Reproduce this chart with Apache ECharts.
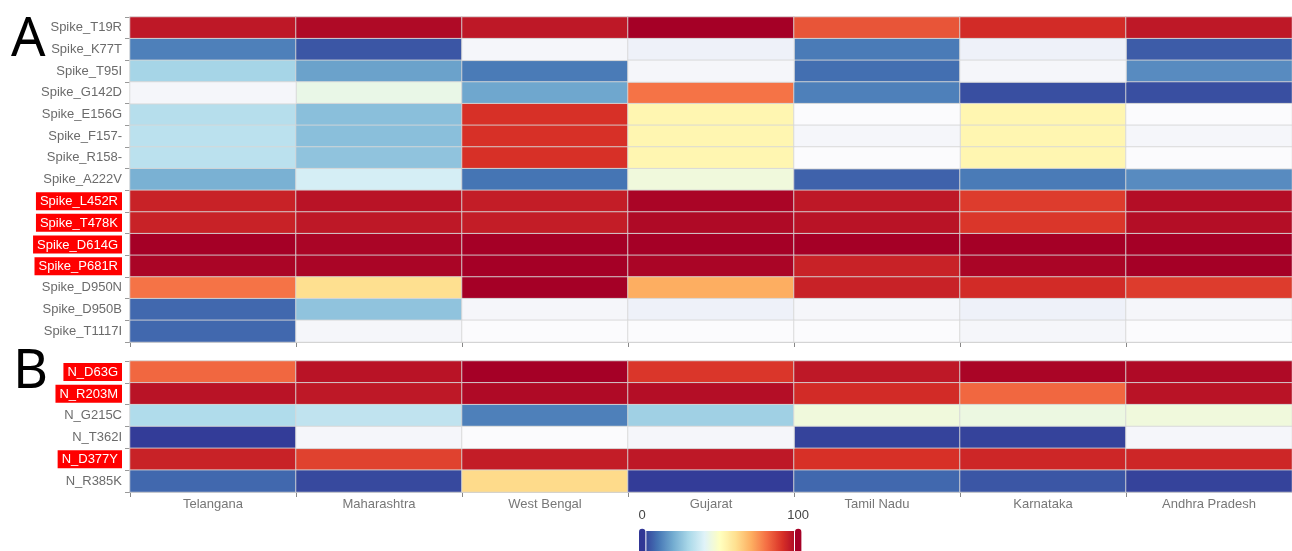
<!DOCTYPE html>
<html>
<head>
<meta charset="utf-8">
<script src="https://cdn.jsdelivr.net/npm/echarts@6/dist/echarts.min.js"></script>
<style>
  html, body { margin: 0; padding: 0; background: #fff; }
  #chart { width: 1292px; height: 551px; }
</style>
</head>
<body>
<div id="chart"></div>
<script>
const states = ['Telangana', 'Maharashtra', 'West Bengal', 'Gujarat', 'Tamil Nadu', 'Karnataka', 'Andhra Pradesh'];

const spikeMutations = [
  'Spike_T19R', 'Spike_K77T', 'Spike_T95I', 'Spike_G142D', 'Spike_E156G', 'Spike_F157-',
  'Spike_R158-', 'Spike_A222V', 'Spike_L452R', 'Spike_T478K', 'Spike_D614G', 'Spike_P681R',
  'Spike_D950N', 'Spike_D950B', 'Spike_T1117I'
];
const nMutations = ['N_D63G', 'N_R203M', 'N_G215C', 'N_T362I', 'N_D377Y', 'N_R385K'];

// labels drawn on a red box
const highlighted = ['Spike_L452R', 'Spike_T478K', 'Spike_D614G', 'Spike_P681R', 'N_D63G', 'N_R203M', 'N_D377Y'];

// frequency (%) per state, same order as states
// -1 / -2 / -3 = no data (drawn in very light greys)
const spikeValues = [
  [95, 98, 95, 100, 84, 91, 95],
  [12, 5, -2, -3, 11, -3, 6],
  [29, 18, 11, -2, 9, -2, 14],
  [-2, 43, 19, 79, 12, 4, 4],
  [32, 24, 90, 53, -1, 53, -1],
  [33, 24, 90, 53, -2, 53, -2],
  [33, 25, 90, 53, -1, 53, -1],
  [21, 38, 10, 45, 7, 11, 14],
  [93, 96, 94, 99, 95, 88, 97],
  [93, 95, 94, 98, 96, 89, 97],
  [100, 99, 100, 100, 100, 100, 100],
  [99, 99, 100, 99, 93, 99, 100],
  [79, 60, 100, 70, 93, 91, 88],
  [8, 25, -2, -3, -2, -3, -2],
  [8, -2, -1, -1, -1, -2, -1]
];
const nValues = [
  [81, 96, 100, 89, 95, 99, 98],
  [96, 95, 98, 97, 91, 81, 96],
  [31, 34, 12, 28, 45, 44, 45],
  [1, -2, -1, -2, 2, 2, -2],
  [93, 87, 94, 95, 90, 92, 92],
  [8, 3, 61, 1, 8, 5, 2]
];

const rdylbu = ['#313695', '#4575b4', '#74add1', '#abd9e9', '#e0f3f8', '#ffffbf',
  '#fee090', '#fdae61', '#f46d43', '#d73027', '#a50026'];

function split(values) {
  const cells = [], empty = [];
  values.forEach((row, r) => row.forEach((v, c) => {
    if (v >= 0) cells.push([c, r, v]);
    else empty.push([c, r, -v]);
  }));
  return {cells, empty};
}
const spike = split(spikeValues);
const nprot = split(nValues);

const labelColor = '#6b6b6b';

function yAxis(names, gridIndex) {
  return {
    type: 'category',
    gridIndex,
    data: names,
    inverse: true,
    axisLine: {show: false},
    axisTick: {show: true, length: 5, lineStyle: {color: '#999'}},
    axisLabel: {
      color: labelColor,
      fontSize: 13,
      fontFamily: 'Liberation Sans, Arial, sans-serif',
      margin: 8,
      formatter: v => highlighted.includes(v) ? '{hl|' + v + '}' : v,
      rich: {
        hl: {
          backgroundColor: '#ff0000',
          color: '#fff',
          fontSize: 13,
          fontFamily: 'Liberation Sans, Arial, sans-serif',
          padding: [3, 4, 2, 4]
        }
      }
    },
    splitLine: {show: false}
  };
}

function xAxis(gridIndex, showLabel) {
  return {
    type: 'category',
    gridIndex,
    data: states,
    axisLine: {show: true, lineStyle: {color: '#aaa', width: 1.5}},
    axisTick: {show: true, length: 5, lineStyle: {color: '#888'}},
    axisLabel: {
      show: showLabel,
      color: '#777',
      fontSize: 13,
      fontFamily: 'Liberation Sans, Arial, sans-serif',
      margin: 6
    },
    splitLine: {show: false}
  };
}

const cellStyle = {borderColor: 'rgba(215,215,215,0.9)', borderWidth: 1};

const chart = echarts.init(document.getElementById('chart'));
chart.setOption({
  animation: false,
  backgroundColor: '#fff',
  grid: [
    {left: 130, top: 17, width: 1168, height: 325},
    {left: 130, top: 361, width: 1168, height: 131}
  ],
  xAxis: [xAxis(0, false), xAxis(1, true)],
  yAxis: [yAxis(spikeMutations, 0), yAxis(nMutations, 1)],
  visualMap: [
    {
      type: 'continuous',
      seriesIndex: [0, 2],
      min: 0,
      max: 100,
      calculable: true,
      orient: 'horizontal',
      left: 623,
      top: 494,
      itemWidth: 22,
      itemHeight: 156,
      inRange: {color: rdylbu},
      textStyle: {color: '#444', fontSize: 13}
    },
    {
      type: 'piecewise',
      seriesIndex: [1, 3],
      show: false,
      pieces: [
        {value: 1, color: '#fbfbfd'},
        {value: 2, color: '#f5f6fa'},
        {value: 3, color: '#eef1f9'}
      ]
    }
  ],
  graphic: [
    {type: 'text', left: 11, top: 14, style: {text: 'A', fontSize: 54, fill: '#000', fontFamily: 'Noto Sans, sans-serif'}},
    {type: 'text', left: 13, top: 346, style: {text: 'B', fontSize: 54, fill: '#000', fontFamily: 'Noto Sans, sans-serif'}}
  ],
  series: [
    {type: 'heatmap', xAxisIndex: 0, yAxisIndex: 0, data: spike.cells, itemStyle: cellStyle},
    {type: 'heatmap', xAxisIndex: 0, yAxisIndex: 0, data: spike.empty, itemStyle: cellStyle},
    {type: 'heatmap', xAxisIndex: 1, yAxisIndex: 1, data: nprot.cells, itemStyle: cellStyle},
    {type: 'heatmap', xAxisIndex: 1, yAxisIndex: 1, data: nprot.empty, itemStyle: cellStyle}
  ]
});
</script>
</body>
</html>
